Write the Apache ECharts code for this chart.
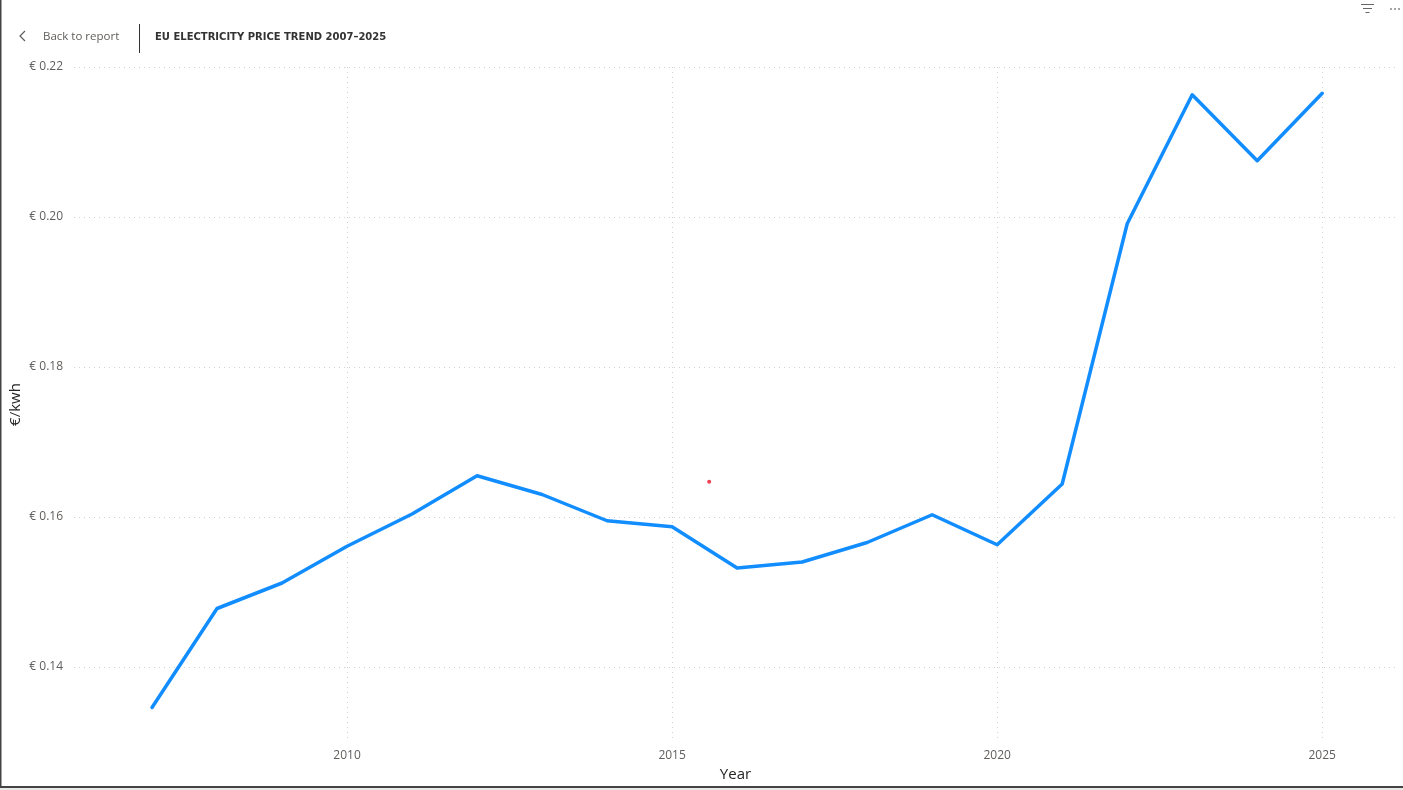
<!DOCTYPE html>
<html>
<head>
<meta charset="utf-8">
<title>EU Electricity Price Trend 2007–2025</title>
<script src="https://cdn.jsdelivr.net/npm/echarts@6/dist/echarts.min.js"></script>
<style>
  html, body { margin: 0; padding: 0; background: #fff; }
  #chart { width: 1403px; height: 790px; }
</style>
</head>
<body>
<div id="chart"></div>
<script>
// price per kWh
var years = [2007, 2008, 2009, 2010, 2011, 2012, 2013, 2014, 2015, 2016,
             2017, 2018, 2019, 2020, 2021, 2022, 2023, 2024, 2025];
var prices = [0.1346, 0.1478, 0.1512, 0.1561, 0.1604, 0.1655, 0.1630, 0.1595, 0.1587, 0.1532,
              0.1540, 0.1566, 0.1603, 0.1563, 0.1644, 0.1991, 0.2163, 0.2075, 0.2165];
// stray red dot seen in the screenshot
var strayPoint = [2015.57, 0.1647];

var yMin = 0.13, yMax = 0.22;
var xMin = 2005.8, xMax = 2026.15;

var myChart = echarts.init(document.getElementById('chart'));

var font = '"Segoe UI", "Open Sans", "Noto Sans", sans-serif';

var option = {
    animation: false,
    textStyle: { fontFamily: font },
    tooltip: { trigger: 'axis' },
    grid: { left: 74, right: 6, top: 67, bottom: 48, containLabel: false, outerBoundsMode: 'none' },
    xAxis: {
        type: 'value',
        min: xMin,
        max: xMax,
        name: 'Year',
        nameLocation: 'middle',
        nameGap: 25,
        nameMoveOverlap: false,
        nameTextStyle: { color: '#252423', fontSize: 15, fontFamily: font },
        axisLine: { show: false },
        axisTick: { show: false },
        axisLabel: {
            color: '#605E5C', fontSize: 12, margin: 8,
            showMinLabel: false, showMaxLabel: false,
            formatter: function (v) { return String(Math.round(v)); }
        },
        splitLine: {
            show: true, showMinLine: false, showMaxLine: false,
            lineStyle: { color: '#d0d0d0', type: [1, 4], width: 1 }
        }
    },
    yAxis: {
        type: 'value',
        min: yMin,
        max: yMax,
        name: '€/kwh',
        nameLocation: 'middle',
        nameGap: 51,
        nameRotate: 90,
        nameMoveOverlap: false,
        nameTextStyle: { color: '#252423', fontSize: 15, fontFamily: font },
        axisLine: { show: false },
        axisTick: { show: false },
        axisLabel: {
            color: '#605E5C', fontSize: 12, margin: 11,
            showMinLabel: false,
            formatter: function (v) { return '€ ' + v.toFixed(2); }
        },
        splitLine: {
            show: true, showMinLine: false,
            lineStyle: { color: '#d0d0d0', type: [1, 4], width: 1 }
        }
    },
    series: [
        {
            type: 'line',
            showSymbol: false,
            data: years.map(function (y, i) { return [y, prices[i]]; }),
            lineStyle: { color: '#118DFF', width: 3.5, join: 'round', cap: 'round' },
            itemStyle: { color: '#118DFF' }
        },
        {
            type: 'scatter',
            symbolSize: 4,
            silent: true,
            data: [strayPoint],
            itemStyle: { color: '#E81123' },
            tooltip: { show: false }
        }
    ],
    graphic: [
        // frame: left edge, bottom edge and grey strip below
        { type: 'rect', left: 0, top: 788, shape: { width: 1403, height: 2 }, style: { fill: '#e9e9e9' }, silent: true },
        { type: 'rect', left: 0, top: 786, shape: { width: 1403, height: 2 }, style: { fill: '#444' }, silent: true },
        { type: 'rect', left: 0, top: 0, shape: { width: 1.5, height: 788 }, style: { fill: '#444' }, silent: true },
        // back button
        { type: 'polyline', shape: { points: [[25, 31], [20, 36], [25, 41]] },
          style: { stroke: '#605E5C', lineWidth: 1.2, fill: null }, silent: true },
        { type: 'text', left: 43, top: 31,
          style: { text: 'Back to report', fill: '#605E5C', font: '11.5px ' + font } },
        { type: 'line', shape: { x1: 139.5, y1: 24, x2: 139.5, y2: 53 },
          style: { stroke: '#333', lineWidth: 1 }, silent: true },
        { type: 'text', left: 155, top: 32,
          style: { text: 'EU ELECTRICITY PRICE TREND 2007–2025', fill: '#333',
                   font: 'bold 10px "DejaVu Sans", sans-serif' } },
        // visual header icons (filter + more)
        { type: 'line', shape: { x1: 1361, y1: 4.5, x2: 1374, y2: 4.5 }, style: { stroke: '#666', lineWidth: 1 }, silent: true },
        { type: 'line', shape: { x1: 1363, y1: 8.5, x2: 1372, y2: 8.5 }, style: { stroke: '#666', lineWidth: 1 }, silent: true },
        { type: 'line', shape: { x1: 1365.5, y1: 12.5, x2: 1369.5, y2: 12.5 }, style: { stroke: '#666', lineWidth: 1 }, silent: true },
        { type: 'circle', shape: { cx: 1391, cy: 9, r: 1 }, style: { fill: '#888' }, silent: true },
        { type: 'circle', shape: { cx: 1395, cy: 9, r: 1 }, style: { fill: '#888' }, silent: true },
        { type: 'circle', shape: { cx: 1399, cy: 9, r: 1 }, style: { fill: '#888' }, silent: true }
    ]
};

myChart.setOption(option);
</script>
</body>
</html>
